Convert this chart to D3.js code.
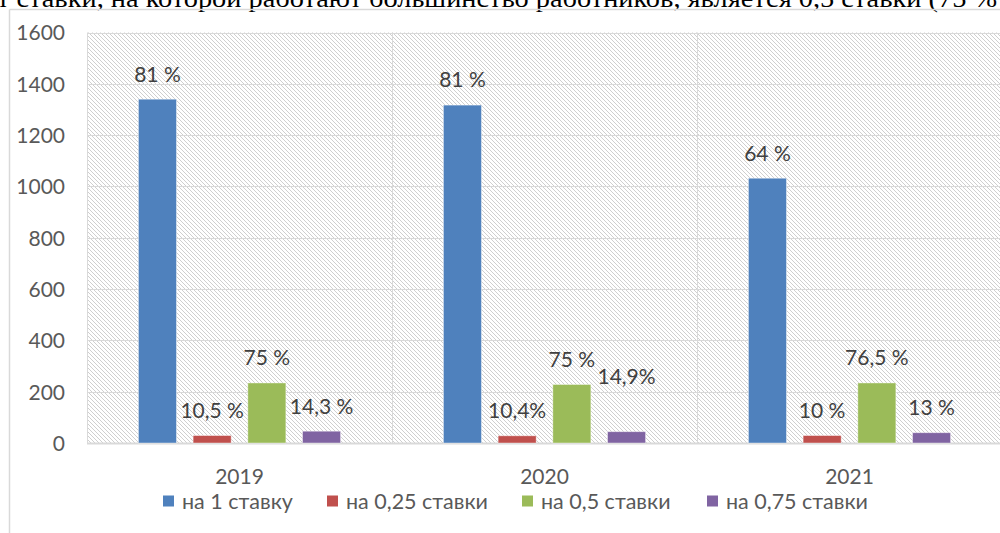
<!DOCTYPE html>
<html>
<head>
<meta charset="utf-8">
<script src="https://cdn.jsdelivr.net/npm/d3@7"></script>
<style>
  html, body { margin: 0; padding: 0; background: #fff; }
  svg { display: block; }
  text { font-family: Lato, "Open Sans", sans-serif; }
</style>
</head>
<body>
<svg id="chart" width="1000" height="533"></svg>
<script>
// Years on the category axis
const years = ["2019", "2020", "2021"];
// Series (workload rate) names
const seriesNames = ["на 1 ставку", "на 0,25 ставки", "на 0,5 ставки", "на 0,75 ставки"];
const seriesColors = ["#4f81bd", "#c0504d", "#9bbb59", "#8064a2"];
// Headcount per series, one value per year
const rate100 = [1340, 1317, 1032];
const rate025 = [29, 28, 29];
const rate050 = [234, 228, 234];
const rate075 = [46, 44, 40];
// Share labels shown above each bar
const label100 = ["81 %", "81 %", "64 %"];
const label025 = ["10,5 %", "10,4%", "10 %"];
const label050 = ["75 %", "75 %", "76,5 %"];
const label075 = ["14,3 %", "14,9%", "13 %"];
// Value axis ticks
const yTicks = [0, 200, 400, 600, 800, 1000, 1200, 1400, 1600];

const values = [rate100, rate025, rate050, rate075];
const labels = [label100, label025, label050, label075];

const svg = d3.select("#chart");
const plot = { left: 87, right: 1002, top: 32.5, bottom: 443 };

// Hatched plot background: one-pixel downward diagonals every 4 px
const defs = svg.append("defs");
const pat = defs.append("pattern")
  .attr("id", "hatch").attr("patternUnits", "userSpaceOnUse")
  .attr("width", 4).attr("height", 4);
pat.append("rect").attr("width", 4).attr("height", 4).attr("fill", "#fff");
[0, 1, 2, 3].forEach(i => {
  pat.append("rect").attr("x", i).attr("y", i).attr("width", 1).attr("height", 1)
    .attr("fill", "#cfcfcf");
});

// Text line running above the chart
svg.append("text")
  .attr("x", -3).attr("y", 7)
  .attr("font-size", 25).attr("fill", "#000")
  .attr("textLength", 1000).attr("lengthAdjust", "spacingAndGlyphs")
  .style("font-family", "'Liberation Serif', serif")
  .text("т ставки, на которой работают большинство работников, является 0,5 ставки (75 %");

// Chart frame
svg.append("line").attr("x1", 9.5).attr("x2", 1000).attr("y1", 9.5).attr("y2", 9.5)
  .attr("stroke", "#d9d9d9").attr("stroke-width", 1.5);
svg.append("line").attr("x1", 9.5).attr("x2", 9.5).attr("y1", 9.5).attr("y2", 533)
  .attr("stroke", "#d9d9d9").attr("stroke-width", 1.5);

const x0 = d3.scaleBand().domain(years).range([plot.left, plot.right]).padding(0);
const x1 = d3.scaleBand().domain(seriesNames).range([0, x0.bandwidth()])
  .paddingInner(0.305).paddingOuter(0.94);
const y = d3.scaleLinear().domain([0, 1600]).range([plot.bottom, plot.top]);

svg.append("rect")
  .attr("x", plot.left).attr("y", plot.top)
  .attr("width", plot.right - plot.left).attr("height", plot.bottom - plot.top)
  .attr("fill", "url(#hatch)");

// Horizontal gridlines
svg.append("g").selectAll("line").data(yTicks).join("line")
  .attr("x1", plot.left).attr("x2", plot.right)
  .attr("y1", d => Math.round(y(d)) + 0.5).attr("y2", d => Math.round(y(d)) + 0.5)
  .attr("stroke", "#d9d9d9").attr("stroke-width", d => d === 0 ? 2 : 1);

// Vertical category separators
svg.append("g").selectAll("line").data(years).join("line")
  .attr("x1", d => Math.round(x0(d)) + 0.5).attr("x2", d => Math.round(x0(d)) + 0.5)
  .attr("y1", plot.top).attr("y2", plot.bottom)
  .attr("stroke", "#d9d9d9");

// Value axis labels
const yAxis = d3.axisLeft(y).tickValues(yTicks).tickFormat(d3.format("d"))
  .tickSize(0).tickPadding(0);
const gy = svg.append("g").attr("transform", "translate(65,0)").call(yAxis);
gy.select(".domain").remove();
gy.selectAll("text").attr("font-size", 21).attr("fill", "#595959")
  .attr("font-family", "Lato, sans-serif").attr("dy", "0.35em");

// Category axis labels
const xAxis = d3.axisBottom(x0).tickSize(0).tickPadding(0);
const gx = svg.append("g").attr("transform", `translate(0,${plot.bottom + 34})`).call(xAxis);
gx.select(".domain").remove();
gx.selectAll("text").attr("font-size", 21).attr("fill", "#595959")
  .attr("font-family", "Lato, sans-serif").attr("dy", "0.35em");

// Bars
const cells = [];
seriesNames.forEach((s, si) => {
  years.forEach((yr, yi) => {
    cells.push({ s, si, yr, yi, v: values[si][yi], label: labels[si][yi] });
  });
});

svg.append("g").selectAll("rect").data(cells).join("rect")
  .attr("x", d => x0(d.yr) + x1(d.s))
  .attr("y", d => y(d.v))
  .attr("width", x1.bandwidth())
  .attr("height", d => y(0) - y(d.v))
  .attr("fill", d => seriesColors[d.si])
  .attr("stroke", "#ffffff").attr("stroke-opacity", 0.5).attr("stroke-width", 0.8);

// Data labels; the 0,75 label of 2020 sits higher to clear its neighbour
const liftFor = d => (d.si === 3 && d.yr === "2020") ? 55 : 25;
svg.append("g").selectAll("text").data(cells).join("text")
  .attr("x", d => x0(d.yr) + x1(d.s) + x1.bandwidth() / 2)
  .attr("y", d => y(d.v) - liftFor(d))
  .attr("dy", "0.35em")
  .attr("text-anchor", "middle")
  .attr("font-size", 21).attr("fill", "#404040")
  .text(d => d.label);

// Legend
const legendX = [163, 327, 522, 707];
const lg = svg.append("g").selectAll("g").data(seriesNames).join("g")
  .attr("transform", (d, i) => `translate(${legendX[i]},501)`);
lg.append("rect").attr("x", 0).attr("y", -5.5).attr("width", 11).attr("height", 11)
  .attr("fill", (d, i) => seriesColors[i]);
lg.append("text").attr("x", 19).attr("dy", "0.35em")
  .attr("font-size", 21.5).attr("fill", "#595959").text(d => d);
</script>
</body>
</html>
